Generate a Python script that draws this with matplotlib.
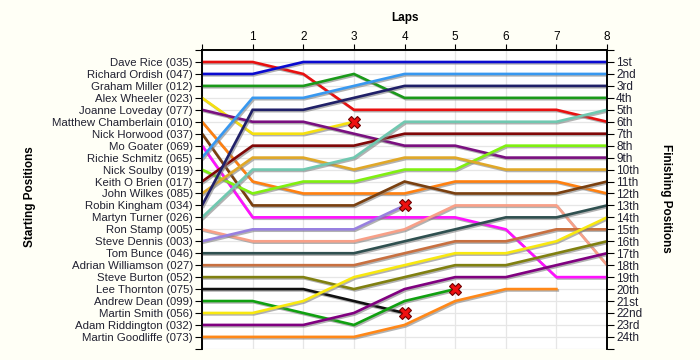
import matplotlib
matplotlib.use("Agg")
import matplotlib.pyplot as plt
import matplotlib.patheffects as pe

plt.rcParams["font.family"] = ["Liberation Sans", "DejaVu Sans"]

drivers = ["Dave Rice (035)", "Richard Ordish (047)", "Graham Miller (012)", "Alex Wheeler (023)",
           "Joanne Loveday (077)", "Matthew Chamberlain (010)", "Nick Horwood (037)", "Mo Goater (069)",
           "Richie Schmitz (065)", "Nick Soulby (019)", "Keith O Brien (017)", "John Wilkes (085)",
           "Robin Kingham (034)", "Martyn Turner (026)", "Ron Stamp (005)", "Steve Dennis (003)",
           "Tom Bunce (046)", "Adrian Williamson (027)", "Steve Burton (052)", "Lee Thornton (075)",
           "Andrew Dean (099)", "Martin Smith (056)", "Adam Riddington (032)", "Martin Goodliffe (073)"]

# position after each lap, starting at lap 0
positions = [
    [1, 1, 2, 5, 5, 5, 5, 5, 6],
    [2, 2, 1, 1, 1, 1, 1, 1, 1],
    [3, 3, 3, 2, 4, 4, 4, 4, 4],
    [4, 7, 7, 6],
    [5, 6, 6, 7, 8, 8, 9, 9, 9],
    [6, 11, 12, 12, 12, 11, 11, 11, 12],
    [7, 13, 13, 13, 11, 12, 12, 12, 11],
    [8, 14, 14, 14, 14, 14, 15, 19, 19],
    [9, 4, 4, 3, 2, 2, 2, 2, 2],
    [10, 12, 11, 11, 10, 10, 8, 8, 8],
    [11, 8, 8, 8, 7, 7, 7, 7, 7],
    [12, 9, 9, 10, 9, 9, 10, 10, 10],
    [13, 5, 5, 4, 3, 3, 3, 3, 3],
    [14, 10, 10, 9, 6, 6, 6, 6, 5],
    [15, 16, 16, 16, 15, 13, 13, 13, 18],
    [16, 15, 15, 15, 13],
    [17, 17, 17, 17, 16, 15, 14, 14, 13],
    [18, 18, 18, 18, 17, 16, 16, 15, 15],
    [19, 19, 19, 20, 19, 18, 18, 17, 16],
    [20, 20, 20, 21, 22],
    [21, 21, 22, 23, 21, 20],
    [22, 22, 21, 19, 18, 17, 17, 16, 14],
    [23, 23, 23, 22, 20, 19, 19, 18, 17],
    [24, 24, 24, 24, 23, 21, 20, 20],
]
retired = [False, False, False, True, False, False, False, False, False, False, False, False,
           False, False, False, True, False, False, False, True, True, False, False, False]

colors = ["#e81010", "#0a0ad0", "#1a9a1a", "#f5e010", "#7a1080", "#ff8010", "#7a4010", "#ff10ff",
          "#3898f0", "#80f010", "#800808", "#e0a828", "#202068", "#70c8b0", "#f8a088", "#9880e0",
          "#2f5050", "#c87040", "#808010", "#101010", "#10a010", "#f8e810", "#800080", "#ff8818"]

finish_labels = ["1st", "2nd", "3rd"] + [f"{i}th" for i in range(4, 21)] + ["21st", "22nd", "23rd", "24th"]
laps = list(range(0, 9))

fig = plt.figure(figsize=(7, 3.6), dpi=100, facecolor="#fffff6")
ax = fig.add_axes([0.2886, 0.031, 0.5786, 0.830])
ax.set_facecolor("white")

for name, pos, col, ret in zip(drivers, positions, colors, retired):
    xs = list(range(len(pos)))
    ax.plot(xs, pos, color=col, lw=1.9, solid_joinstyle="miter", zorder=3,
            path_effects=[pe.SimpleLineShadow(offset=(1, -1), shadow_color="gray", alpha=0.6), pe.Normal()])
    if ret:
        ax.plot(xs[-1], pos[-1], marker="X", ms=9, mfc="#ee1010", mec="#700000", mew=0.8, zorder=5)

ax.set_xlim(0, 8)
ax.set_ylim(25, 0)
ax.set_xticks(laps)
ax.set_xticklabels([""] + [str(l) for l in laps[1:]])
ax.xaxis.tick_top()
ax.set_yticks(range(0, 26))
ax.set_yticklabels([""] + drivers + [""])
ax.tick_params(axis="x", length=4, color="black", labelsize=8.5, pad=1)
ax.tick_params(axis="y", length=5, color="black", labelsize=8.2, pad=1.5, labelcolor="#202030")

ax2 = ax.twinx()
ax2.set_ylim(25, 0)
ax2.set_yticks(range(0, 26))
ax2.set_yticklabels([""] + finish_labels + [""])
ax2.tick_params(axis="y", length=5, labelsize=8.5, pad=1.5, labelcolor="#202030")

for a in (ax, ax2):
    a.spines["bottom"].set_visible(False)
    for s in ("top", "left", "right"):
        a.spines[s].set_linewidth(1.2)

ax.grid(True, color="#e6e6e6", lw=0.9, zorder=0)
ax.set_axisbelow(True)

fig.text(0.578, 0.95, "Laps", ha="center", va="center", fontsize=8.5, fontweight="bold")
fig.text(0.043, 0.453, "Starting Positions", ha="center", va="center", rotation=90, fontsize=8.5, fontweight="bold")
fig.text(0.952, 0.45, "Finishing Positions", ha="center", va="center", rotation=-90, fontsize=8.5, fontweight="bold")

fig.savefig("out.png", dpi=100, facecolor=fig.get_facecolor())
